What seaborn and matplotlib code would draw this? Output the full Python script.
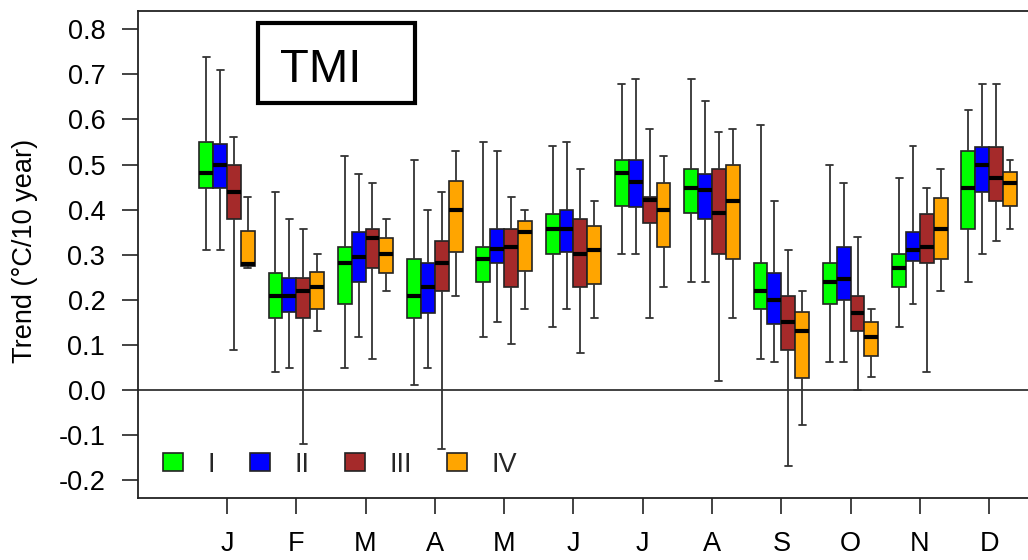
import seaborn as sns
import matplotlib.pyplot as plt
import pandas as pd
from matplotlib.patches import Rectangle

months = ["Jan", "Feb", "Mar", "Apr", "May", "Jun",
          "Jul", "Aug", "Sep", "Oct", "Nov", "Dec"]
month_letters = ["J", "F", "M", "A", "M", "J", "J", "A", "S", "O", "N", "D"]
groups = ["I", "II", "III", "IV"]
colors = ["#00FF00", "#0000FF", "#A52A2A", "#FFA500"]

# (lower whisker, q1, median, q3, upper whisker) for each month
grp_I = [
    (0.310, 0.449, 0.481, 0.550, 0.738),
    (0.041, 0.159, 0.208, 0.260, 0.440),
    (0.049, 0.191, 0.281, 0.318, 0.519),
    (0.011, 0.159, 0.208, 0.290, 0.510),
    (0.118, 0.240, 0.290, 0.318, 0.551),
    (0.139, 0.302, 0.358, 0.390, 0.540),
    (0.302, 0.409, 0.481, 0.509, 0.678),
    (0.240, 0.392, 0.449, 0.489, 0.689),
    (0.069, 0.180, 0.220, 0.281, 0.588),
    (0.061, 0.191, 0.240, 0.281, 0.498),
    (0.139, 0.229, 0.270, 0.301, 0.469),
    (0.240, 0.358, 0.449, 0.530, 0.620),
]
grp_II = [
    (0.310, 0.449, 0.498, 0.545, 0.710),
    (0.049, 0.174, 0.208, 0.248, 0.379),
    (0.118, 0.240, 0.296, 0.350, 0.480),
    (0.049, 0.171, 0.228, 0.281, 0.399),
    (0.151, 0.281, 0.312, 0.358, 0.530),
    (0.180, 0.305, 0.358, 0.399, 0.551),
    (0.302, 0.405, 0.461, 0.509, 0.689),
    (0.240, 0.379, 0.443, 0.480, 0.641),
    (0.061, 0.146, 0.200, 0.260, 0.420),
    (0.061, 0.200, 0.246, 0.318, 0.460),
    (0.191, 0.285, 0.310, 0.350, 0.540),
    (0.301, 0.440, 0.499, 0.539, 0.678),
]
grp_III = [
    (0.089, 0.379, 0.440, 0.498, 0.560),
    (-0.119, 0.159, 0.220, 0.248, 0.358),
    (0.069, 0.270, 0.338, 0.358, 0.460),
    (-0.130, 0.220, 0.281, 0.330, 0.440),
    (0.101, 0.229, 0.318, 0.358, 0.429),
    (0.081, 0.229, 0.302, 0.379, 0.489),
    (0.159, 0.371, 0.421, 0.427, 0.579),
    (0.021, 0.302, 0.392, 0.489, 0.571),
    (-0.168, 0.089, 0.151, 0.208, 0.310),
    (0.000, 0.131, 0.170, 0.208, 0.339),
    (0.041, 0.281, 0.318, 0.390, 0.449),
    (0.330, 0.420, 0.469, 0.539, 0.678),
]
grp_IV = [
    (0.270, 0.275, 0.279, 0.353, 0.428),
    (0.131, 0.180, 0.229, 0.262, 0.301),
    (0.220, 0.260, 0.301, 0.338, 0.379),
    (0.209, 0.305, 0.399, 0.463, 0.530),
    (0.180, 0.264, 0.350, 0.374, 0.399),
    (0.159, 0.234, 0.310, 0.364, 0.420),
    (0.229, 0.316, 0.399, 0.460, 0.519),
    (0.159, 0.290, 0.420, 0.498, 0.579),
    (-0.078, 0.026, 0.131, 0.174, 0.220),
    (0.029, 0.075, 0.118, 0.151, 0.180),
    (0.220, 0.290, 0.358, 0.425, 0.489),
    (0.358, 0.409, 0.460, 0.483, 0.509),
]

rows = []
for g, stats in zip(groups, [grp_I, grp_II, grp_III, grp_IV]):
    for m, five in zip(months, stats):
        for v in five:
            rows.append({"month": m, "group": g, "trend": v})
df = pd.DataFrame(rows)

sns.set_theme(style="ticks")
plt.rcParams["font.family"] = ["Liberation Sans", "DejaVu Sans"]
plt.rcParams["axes.unicode_minus"] = False

fig = plt.figure(figsize=(10.28, 5.6), dpi=100)
ax = fig.add_axes([138 / 1028, 62 / 560, 890 / 1028, 487 / 560])

ax.axhline(0, color="#333333", lw=1.3, zorder=0)
sns.boxplot(data=df, x="month", y="trend", hue="group",
            order=months, hue_order=groups, palette=colors,
            saturation=1, width=0.8, gap=0, whis=(0, 100),
            linecolor="#222222", linewidth=1.2, showfliers=False,
            medianprops=dict(color="black", linewidth=3),
            whiskerprops=dict(color="#333333", linewidth=1.3),
            capprops=dict(color="#333333", linewidth=1.3),
            ax=ax)

ax.set_ylim(-0.2395, 0.8404)
ax.set_xlim(-1.284, 11.56)
yt = [-0.2, -0.1, 0.0, 0.1, 0.2, 0.3, 0.4, 0.5, 0.6, 0.7, 0.8]
ax.set_yticks(yt)
ax.set_yticklabels([f"{v:.1f}" for v in yt])
ax.set_xticks(range(12))
ax.set_xticklabels(month_letters)
ax.tick_params(axis="both", length=11.5, width=1.2, color="#222222",
               labelsize=19.5, labelcolor="black")
ax.tick_params(axis="x", pad=12.5)
ax.tick_params(axis="y", pad=12)

ax.set_xlabel("")
ax.set_ylabel("Trend (°C/10 year)", fontsize=19.5, color="black")
ax.yaxis.set_label_coords(-0.1124, 0.507)

for s in ["left", "top", "bottom"]:
    ax.spines[s].set_color("#222222")
    ax.spines[s].set_linewidth(1.3)
ax.spines["right"].set_visible(False)

sns.move_legend(ax, "center left", bbox_to_anchor=(0.028, 0.068), ncol=4,
                frameon=False, title=None, fontsize=19.5,
                handlelength=0.74, handleheight=0.64, handletextpad=0.9,
                columnspacing=1.3, borderaxespad=0, borderpad=0)

# "TMI" label box
ax.add_patch(Rectangle((0.1348, 0.811), 0.1764, 0.164, transform=ax.transAxes,
                       fill=False, lw=3, edgecolor="black", zorder=5))
ax.text(0.1596, 0.854, "TMI", transform=ax.transAxes, fontsize=34,
        ha="left", va="baseline", color="black")

fig.savefig("out.png", dpi=100)
